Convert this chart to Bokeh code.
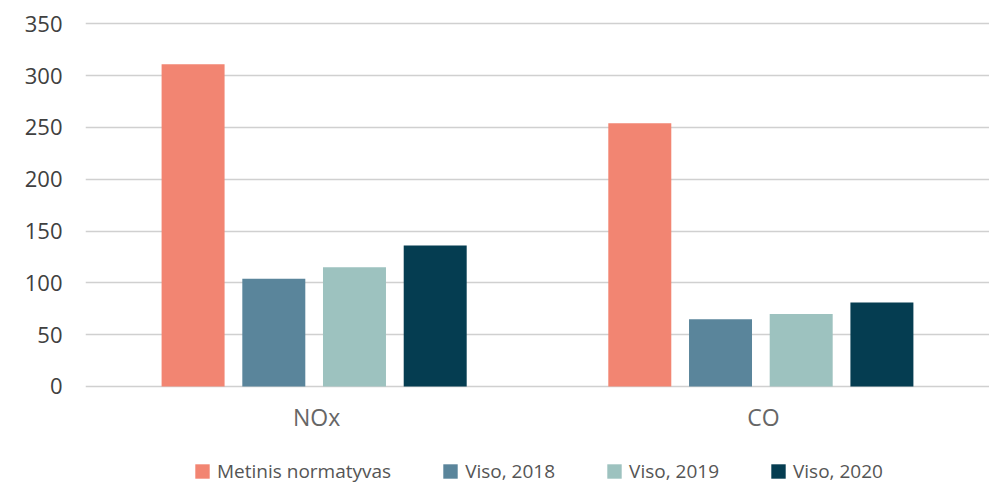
from bokeh.plotting import figure
from bokeh.models import ColumnDataSource, FactorRange, Range1d, FixedTicker, Legend
from bokeh.core.properties import value
from bokeh.transform import dodge
from bokeh.embed import file_html
from bokeh.resources import INLINE

categories = ["NOx", "CO"]
metinis = [311, 254]
viso_2018 = [104, 65]
viso_2019 = [115, 70]
viso_2020 = [136, 81]
series_labels = ["Metinis normatyvas", "Viso, 2018", "Viso, 2019", "Viso, 2020"]
y_ticks = [0, 50, 100, 150, 200, 250, 300, 350]

colors = ["#F28572", "#5A859B", "#9DC2BF", "#053D51"]
offsets = [-0.271, -0.0903, 0.0903, 0.271]

source = ColumnDataSource(dict(cat=categories, base=[0] * len(categories),
                               s0=metinis, s1=viso_2018, s2=viso_2019, s3=viso_2020))

FONT = "Open Sans"

# frame extends below the zero line so the category labels and legend live inside it
p = figure(x_range=FactorRange(*categories, range_padding=0.01185, range_padding_units="absolute"),
           y_range=Range1d(-94.6, 360),
           frame_width=904, frame_height=471, output_backend="svg", toolbar_location=None,
           min_border_left=85, min_border_right=0, min_border_top=13, min_border_bottom=0)
p.outline_line_color = None
p.background_fill_color = "white"

renderers = []
for i, key in enumerate(["s0", "s1", "s2", "s3"]):
    r = p.vbar(x=dodge("cat", offsets[i], range=p.x_range), top=key, bottom=0, width=0.141,
               source=source, fill_color=colors[i], line_color=None)
    renderers.append((series_labels[i], [r]))

# category labels under the zero line
p.text(x="cat", y="base", text="cat", source=source, y_offset=31, x_offset=2.5,
       text_align="center", text_baseline="middle", text_font=value(FONT),
       text_font_size="23px", text_color="#666666")

p.xaxis.visible = False
p.yaxis.ticker = FixedTicker(ticks=y_ticks)
p.yaxis.axis_line_color = None
p.yaxis.major_tick_line_color = None
p.yaxis.minor_tick_line_color = None
p.yaxis.major_label_standoff = 17
p.yaxis.major_label_text_font = FONT
p.yaxis.major_label_text_font_size = "22px"
p.yaxis.major_label_text_color = "#404040"

p.xgrid.grid_line_color = None
p.ygrid.ticker = FixedTicker(ticks=y_ticks)
p.ygrid.grid_line_color = "#D0D0D0"
p.ygrid.grid_line_width = 1.3

legend = Legend(items=renderers, orientation="horizontal", location=(108, 0),
                label_text_font=FONT, label_text_font_size="19px", label_text_color="#555555",
                glyph_width=18, glyph_height=18, label_standoff=6, spacing=50,
                padding=0, margin=0, border_line_color=None, background_fill_alpha=0)
p.add_layout(legend, "center")

open("out.html", "w").write(file_html(p, INLINE))
